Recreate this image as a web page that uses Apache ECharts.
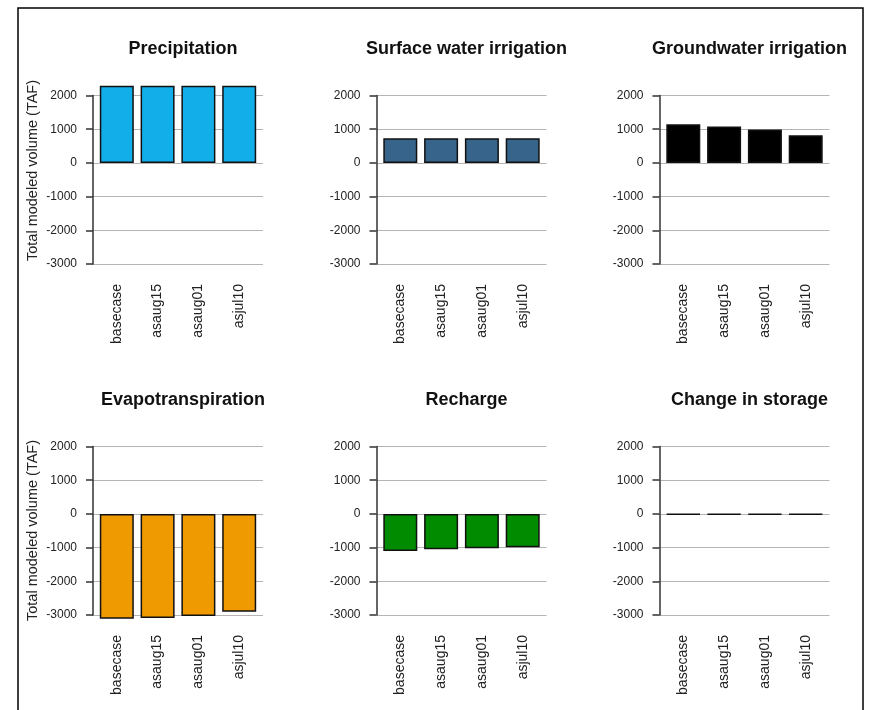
<!DOCTYPE html>
<html>
<head>
<meta charset="utf-8">
<script src="https://cdn.jsdelivr.net/npm/echarts@6/dist/echarts.min.js"></script>
<style>
  html, body { margin: 0; padding: 0; background: #fff; }
  #chart { width: 871px; height: 710px; }
</style>
</head>
<body>
<div id="chart"></div>
<script>
// Scenario names along the x axis of each panel
const scenarios = ['basecase', 'asaug15', 'asaug01', 'asjul10'];

// Volumes (TAF)
const precipitation = [2290, 2290, 2290, 2290];
const surfaceWater = [730, 730, 730, 730];
const groundwater = [1150, 1080, 990, 820];
const evapotranspiration = [-3110, -3090, -3030, -2900];
const recharge = [-1100, -1050, -1020, -990];
const storageChange = [-20, -20, -20, -20];

// y axis range shared by all panels
const yMin = -3000;
const yMax = 2000;
const yStep = 1000;

const panels = [
  { title: 'Precipitation', data: precipitation, color: '#12AEEA' },
  { title: 'Surface water irrigation', data: surfaceWater, color: '#36648B' },
  { title: 'Groundwater irrigation', data: groundwater, color: '#000000' },
  { title: 'Evapotranspiration', data: evapotranspiration, color: '#EE9A00' },
  { title: 'Recharge', data: recharge, color: '#008B00' },
  { title: 'Change in storage', data: storageChange, color: '#555555' },
];

const chart = echarts.init(document.getElementById('chart'));

// panel geometry (plot region of each small chart)
const W = 170;
const H = 168.5;
const colX = [93, 376.5, 659.5];
const rowY = [95.5, 446.5];
const unit = W / 5; // one bar width, R barplot style (space 0.2)
const font = 'Liberation Sans, Arial, sans-serif';

const grid = [];
const xAxis = [];
const yAxis = [];
const series = [];
const title = [];

panels.forEach((p, i) => {
  const x0 = colX[i % 3];
  const y0 = rowY[Math.floor(i / 3)];
  const g = i * 2;

  // back grid: y axis, ticks and horizontal guide lines
  grid.push({ left: x0, top: y0, width: W, height: H });
  // front grid: bars and category labels
  grid.push({ left: x0 + unit * 0.1, top: y0, width: unit * 4.8, height: H });

  xAxis.push({ gridIndex: g, type: 'category', data: scenarios, show: false });
  xAxis.push({
    gridIndex: g + 1,
    type: 'category',
    data: scenarios,
    axisLine: { show: false },
    axisTick: { show: false },
    axisLabel: { rotate: 90, margin: 20, fontSize: 14, color: '#222', fontFamily: font },
  });

  yAxis.push({
    gridIndex: g,
    type: 'value',
    min: yMin,
    max: yMax,
    interval: yStep,
    axisLine: { show: true, lineStyle: { color: '#333', width: 1.5 } },
    axisTick: { show: true, length: 7, lineStyle: { color: '#333', width: 1.5 } },
    axisLabel: {
      margin: 16,
      fontSize: 12,
      color: '#222',
      fontFamily: font,
      formatter: v => String(v),
    },
    splitLine: { show: true, lineStyle: { color: '#b4b4b4', width: 1 } },
  });
  yAxis.push({ gridIndex: g + 1, type: 'value', min: yMin, max: yMax, interval: yStep, show: false });

  series.push({
    type: 'bar',
    name: p.title,
    xAxisIndex: g + 1,
    yAxisIndex: g + 1,
    data: p.data,
    barWidth: unit,
    clip: false,
    itemStyle: { color: p.color, borderColor: '#111', borderWidth: 1.5 },
    silent: true,
  });

  title.push({
    text: p.title,
    left: x0 + W / 2,
    top: y0 - 60,
    textAlign: 'center',
    textStyle: { fontSize: 18, fontWeight: 'bold', color: '#111', fontFamily: font },
  });
});

// y axis titles on the left column
const yNameStyle = {
  text: 'Total modeled volume (TAF)',
  x: 0,
  y: 0,
  align: 'center',
  verticalAlign: 'middle',
  fontSize: 14.5,
  fill: '#222',
  fontFamily: font,
};

chart.setOption({
  animation: false,
  title,
  grid,
  xAxis,
  yAxis,
  series,
  graphic: [
    // outer frame
    {
      type: 'rect',
      shape: { x: 18, y: 8, width: 845, height: 730 },
      style: { fill: 'none', stroke: '#000', lineWidth: 1.5 },
    },
    { type: 'text', x: 33, y: 170.5, rotation: Math.PI / 2, style: yNameStyle },
    { type: 'text', x: 33, y: 530.5, rotation: Math.PI / 2, style: yNameStyle },
  ],
});
</script>
</body>
</html>
